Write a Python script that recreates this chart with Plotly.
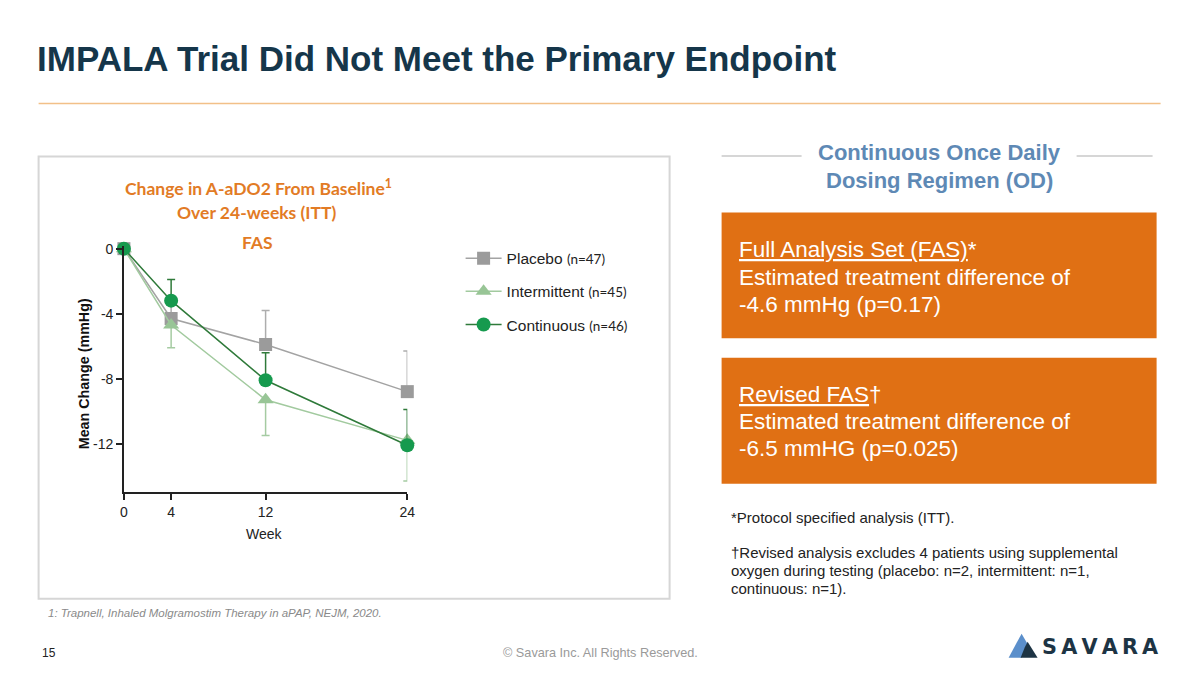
import plotly.graph_objects as go

W, H = 1200, 675

# ---------------- data ----------------
weeks = [0, 4, 12, 24]
week_ticks = [0, 4, 12, 24]
y_ticks = [0, -4, -8, -12]
y_tick_labels = ["0", "-4", "-8", "-12"]

placebo = [0, -4.3, -5.9, -8.8]
placebo_err_up = [0, 1.4, 2.1, 2.5]

intermittent = [0, -4.7, -9.3, -11.8]
intermittent_err_down = [0, 1.4, 2.2, 2.5]

continuous = [0, -3.2, -8.1, -12.1]
continuous_err_up = [0, 1.3, 1.7, 2.2]

series_names = [
    "Placebo <span style='font-size:13.5px;font-family:Lato'>(n=47)</span>",
    "Intermittent <span style='font-size:13.5px;font-family:Lato'>(n=45)</span>",
    "Continuous <span style='font-size:13.5px;font-family:Lato'>(n=46)</span>",
]

# ---------------- styles ----------------
ARIAL = "Liberation Sans, Arial, sans-serif"
NAVY = "#15364A"
ORANGE = "#E07014"
ORANGE_T = "#E27B25"
BLUE_T = "#5E89B5"

# page-pixel -> paper helpers (slight calibration for the capture)
SX, OX = 0.99, 3.4
SY, OY = 0.991, 5.4

def px(x):
    return ((x - OX) / SX) / W

def py(y):
    return 1 - ((y - OY) / SY) / H

fig = go.Figure()

fig.add_trace(go.Scatter(
    x=weeks, y=placebo, name=series_names[0], legendgroup="p",
    mode="lines+markers", cliponaxis=False,
    line=dict(color="#A3A3A3", width=1.5),
    marker=dict(symbol="square", size=13, color="#9B9B9B"),
    error_y=dict(type="data", symmetric=False, array=placebo_err_up,
                 arrayminus=[0, 0, 0, 0], color="#ADADAD", thickness=1.5, width=4),
))
fig.add_trace(go.Scatter(
    x=weeks, y=intermittent, name=series_names[1], legendgroup="i",
    mode="lines+markers", cliponaxis=False,
    line=dict(color="#A2CA9F", width=1.5),
    marker=dict(symbol="triangle-up", size=14, color="#98C596"),
    error_y=dict(type="data", symmetric=False, array=[0, 0, 0, 0],
                 arrayminus=intermittent_err_down, color="#A5CBA2", thickness=1.5, width=4),
))
fig.add_trace(go.Scatter(
    x=weeks, y=continuous, name=series_names[2], legendgroup="c",
    mode="lines+markers", cliponaxis=False,
    line=dict(color="#2F7A3A", width=1.5),
    marker=dict(symbol="circle", size=14, color="#169A4E"),
    error_y=dict(type="data", symmetric=False, array=continuous_err_up,
                 arrayminus=[0, 0, 0, 0], color="#2F7A3A", thickness=1.5, width=4),
))

x0p, x1p = 123.3, 406.7
ytop, ybot = 245.6, 491.7

fig.update_layout(
    width=W, height=H, autosize=False,
    margin=dict(l=0, r=0, t=0, b=0),
    paper_bgcolor="white", plot_bgcolor="white",
    font=dict(family=ARIAL, color="#222222", size=14),
    showlegend=True,
    legend=dict(x=px(460), y=py(241), xanchor="left", yanchor="top",
                bgcolor="rgba(0,0,0,0)", font=dict(family=ARIAL, size=15.5, color="#222"),
                tracegroupgap=10, traceorder="grouped", itemwidth=36),
    xaxis=dict(domain=[px(x0p), px(x1p)], range=[0, 24], tickvals=week_ticks,
               showline=True, linecolor="#222", linewidth=1.5, ticks="outside",
               ticklen=6, tickcolor="#222", tickwidth=1.5, showgrid=False, zeroline=False,
               tickfont=dict(size=14, color="#222")),
    yaxis=dict(domain=[py(ybot), py(ytop)], range=[-15, 0.15], tickvals=y_ticks,
               ticktext=y_tick_labels, showline=True, linecolor="#222", linewidth=1.5,
               ticks="outside", ticklen=6, tickcolor="#222", tickwidth=1.5,
               showgrid=False, zeroline=False, tickfont=dict(size=14, color="#222")),
)

shapes = []
# title underline
shapes.append(dict(type="line", xref="paper", yref="paper", x0=px(38), x1=px(1160),
                   y0=py(103), y1=py(103), line=dict(color="#F2C088", width=1.5)))
# chart frame
shapes.append(dict(type="rect", xref="paper", yref="paper", x0=px(38), x1=px(669),
                   y0=py(156), y1=py(598), line=dict(color="#D6D6D6", width=2)))
# heading side rules
shapes.append(dict(type="line", xref="paper", yref="paper", x0=px(721), x1=px(801),
                   y0=py(155.5), y1=py(155.5), line=dict(color="#C9C9C9", width=1.5)))
shapes.append(dict(type="line", xref="paper", yref="paper", x0=px(1076), x1=px(1152),
                   y0=py(155.5), y1=py(155.5), line=dict(color="#C9C9C9", width=1.5)))
# orange boxes
for (t, b) in [(212, 337.5), (357, 483)]:
    shapes.append(dict(type="rect", xref="paper", yref="paper", x0=px(721), x1=px(1156),
                       y0=py(b), y1=py(t), fillcolor=ORANGE, line=dict(width=0), layer="below"))

# logo mark
def path(pts):
    return "M " + " L ".join(f"{px(x):.5f},{py(y):.5f}" for x, y in pts) + " Z"

shapes.append(dict(type="path", xref="paper", yref="paper",
                   path=path([(1008, 657), (1021, 633), (1028, 645), (1021, 657)]),
                   fillcolor="#5B8FCB", line=dict(width=0)))
shapes.append(dict(type="path", xref="paper", yref="paper",
                   path=path([(1020, 657), (1024, 647), (1027, 641), (1037, 657)]),
                   fillcolor="#1D3444", line=dict(width=0)))
fig.update_layout(shapes=shapes)

anns = []
def ann(x, y, text, size, color="#222", family=ARIAL, xanchor="left", yanchor="middle",
        align="left", angle=0):
    anns.append(dict(x=px(x), y=py(y), xref="paper", yref="paper", text=text,
                     showarrow=False, xanchor=xanchor, yanchor=yanchor, align=align,
                     textangle=angle, font=dict(size=size, color=color, family=family)))

# main title
ann(34, 58, "<b>IMPALA Trial Did Not Meet the Primary Endpoint</b>", 35, NAVY)

# chart title (orange)
ann(258, 187, "<b>Change in A-aDO2 From Baseline<sup>1</sup></b>", 17.5, ORANGE_T,
    family="Lato, sans-serif", xanchor="center", align="center")
ann(256, 212, "<b>Over 24-weeks (ITT)</b>", 17.5, ORANGE_T,
    family="Lato, sans-serif", xanchor="center", align="center")
ann(257, 242, "<b>FAS</b>", 17.5, ORANGE_T, family="Lato, sans-serif", xanchor="center",
    align="center")

# axis titles
ann(83, 373, "<b>Mean Change (mmHg)</b>", 14.3, "#111", xanchor="center", angle=-90,
    align="center")
ann(264, 533, "Week", 14, "#222", xanchor="center", align="center")

# right heading
ann(939, 152, "<b>Continuous Once Daily</b>", 22, BLUE_T, xanchor="center", align="center")
ann(939, 180, "<b>Dosing Regimen (OD)</b>", 22, BLUE_T, xanchor="center", align="center")

# box texts
box1 = ["<u>Full Analysis Set (FAS)</u>*", "Estimated treatment difference of",
        "-4.6 mmHg (p=0.17)"]
box2 = ["<u>Revised FAS</u>†", "Estimated treatment difference of",
        "-6.5 mmHG (p=0.025)"]
for i, t in enumerate(box1):
    ann(736, 249 + i * 27.5, t, 22.5, "white")
for i, t in enumerate(box2):
    ann(736, 394 + i * 27, t, 22.5, "white")

# footnotes
ann(728, 517, "*Protocol specified analysis (ITT).", 15, "#222")
foot = ["†Revised analysis excludes 4 patients using supplemental",
        "oxygen during testing (placebo: n=2, intermittent: n=1,",
        "continuous: n=1)."]
for i, t in enumerate(foot):
    ann(728, 552 + i * 18, t, 15, "#222")

# footer
ann(45, 612, "<i>1: Trapnell, Inhaled Molgramostim Therapy in aPAP, NEJM, 2020.</i>", 11.5, "#8A8A8A")
ann(39, 652, "15", 12, "#222")
ann(600, 652, "© Savara Inc. All Rights Reserved.", 12.7, "#9A9A9A", xanchor="center",
    align="center")
ann(1039, 646, "<b>S A V A R A</b>".replace(" ", "\u2009"), 20.8, "#1D3444",
    family="DejaVu Sans, sans-serif")

fig.update_layout(annotations=anns)

fig.write_html("out.html", config={"displayModeBar": False},
               post_script="document.body.style.margin='0';document.body.style.overflow='hidden';")
